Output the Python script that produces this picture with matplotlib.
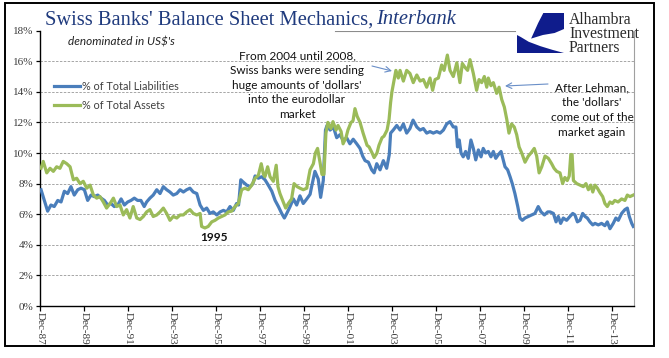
import matplotlib
matplotlib.use('Agg')
import matplotlib.pyplot as plt
from matplotlib.patches import Rectangle, Polygon
from matplotlib.lines import Line2D

# data, x as decimal years
liab_x = [1987.95, 1988.10, 1988.25, 1988.40, 1988.55, 1988.71, 1988.86, 1989.01, 1989.16, 1989.31,
          1989.46, 1989.62, 1989.77, 1989.92, 1990.07, 1990.22, 1990.37, 1990.53, 1990.68, 1990.83,
          1990.98, 1991.13, 1991.28, 1991.44, 1991.59, 1991.74, 1991.89, 1992.04, 1992.19, 1992.34,
          1992.49, 1992.64, 1992.75, 1992.90, 1993.05, 1993.21, 1993.36, 1993.51, 1993.66, 1993.81,
          1993.96, 1994.12, 1994.27, 1994.42, 1994.57, 1994.72, 1994.87, 1995.03, 1995.18, 1995.33,
          1995.48, 1995.63, 1995.78, 1995.94, 1996.09, 1996.24, 1996.39, 1996.54, 1996.69, 1996.84,
          1996.93, 1997.03, 1997.14, 1997.30, 1997.45, 1997.58, 1997.68, 1997.83, 1997.98, 1998.13,
          1998.28, 1998.44, 1998.59, 1998.74, 1998.89, 1999.01, 1999.12, 1999.27, 1999.42, 1999.57,
          1999.72, 1999.87, 2000.03, 2000.18, 2000.25, 2000.40, 2000.55, 2000.66, 2000.78, 2000.88,
          2000.95, 2001.09, 2001.24, 2001.39, 2001.54, 2001.69, 2001.84, 2001.99, 2002.14, 2002.30,
          2002.45, 2002.57, 2002.68, 2002.83, 2002.98, 2003.09, 2003.21, 2003.36, 2003.51, 2003.66,
          2003.78, 2003.84, 2003.96, 2004.12, 2004.27, 2004.42, 2004.57, 2004.72, 2004.86, 2005.03,
          2005.18, 2005.33, 2005.48, 2005.63, 2005.78, 2005.94, 2006.09, 2006.24, 2006.39, 2006.54,
          2006.69, 2006.81, 2006.88, 2006.96, 2007.04, 2007.14, 2007.25, 2007.37, 2007.49, 2007.60,
          2007.71, 2007.83, 2007.95, 2008.05, 2008.16, 2008.28, 2008.40, 2008.51, 2008.62, 2008.74,
          2008.86, 2008.96, 2009.04, 2009.16, 2009.27, 2009.37, 2009.49, 2009.62, 2009.72, 2009.83,
          2009.95, 2010.10, 2010.25, 2010.40, 2010.55, 2010.68, 2010.83, 2010.98, 2011.09, 2011.24,
          2011.36, 2011.46, 2011.57, 2011.69, 2011.84, 2011.99, 2012.12, 2012.22, 2012.33, 2012.45,
          2012.57, 2012.68, 2012.78, 2012.90, 2013.03, 2013.13, 2013.28, 2013.43, 2013.58, 2013.69,
          2013.81, 2013.96, 2014.08, 2014.19, 2014.34, 2014.49, 2014.60, 2014.69, 2014.80, 2014.87]
liab_y = [7.6, 6.9, 6.2, 6.6, 6.5, 6.9, 6.8, 7.5, 7.35, 7.8,
          7.25, 7.6, 7.7, 7.6, 6.9, 7.25, 7.15, 7.25, 7.05, 6.9,
          6.6, 6.7, 6.5, 6.6, 7.0, 6.6, 6.8, 6.9, 7.05, 6.9,
          6.9, 6.5, 6.8, 7.05, 7.25, 7.6, 7.35, 7.8, 7.6, 7.45,
          7.25, 7.35, 7.6, 7.45, 7.6, 7.7, 7.45, 7.35, 6.6, 6.25,
          6.4, 6.05, 6.15, 5.95, 6.15, 6.25, 6.15, 6.5, 6.25, 6.7,
          6.6, 8.25, 8.1, 7.9, 7.8, 8.0, 8.5, 8.35, 8.45, 8.25,
          7.9, 7.5, 6.9, 6.5, 6.05, 5.75, 6.05, 6.5, 7.0, 6.6,
          7.2, 6.7, 7.0, 7.3, 7.8, 8.8, 8.3, 7.1, 8.2, 11.5,
          11.8, 11.5, 11.7, 11.0, 11.2, 10.8, 11.0, 10.6, 10.9, 10.6,
          10.3, 9.8, 9.5, 9.4, 8.9, 8.7, 9.3, 8.9, 9.5, 9.0,
          9.9, 11.3, 11.5, 11.8, 11.5, 11.9, 11.3, 11.6, 12.15, 11.7,
          11.5, 11.6, 11.3, 11.4, 11.3, 11.4, 11.3, 11.5, 11.9, 12.05,
          11.7, 11.7, 10.4, 10.85, 10.0, 9.75, 10.1, 9.65, 10.85, 10.3,
          9.55, 10.2, 9.75, 10.3, 10.0, 10.1, 9.75, 10.1, 9.65, 9.9,
          10.1, 9.55, 9.1, 8.9, 8.45, 8.0, 7.35, 6.5, 5.75, 5.6,
          5.75, 5.85, 5.95, 6.05, 6.5, 6.15, 5.95, 6.15, 6.15, 6.05,
          5.5, 5.85, 5.4, 5.75, 5.6, 5.85, 6.05, 5.95, 5.5, 5.6,
          6.05, 5.85, 5.75, 5.5, 5.3, 5.4, 5.3, 5.4, 5.25, 5.5,
          5.05, 5.4, 5.75, 5.6, 6.05, 6.3, 6.4, 5.85, 5.4, 5.2]

asset_x = [1987.95, 1988.05, 1988.21, 1988.36, 1988.51, 1988.66, 1988.81, 1988.96, 1989.12, 1989.27,
           1989.42, 1989.57, 1989.72, 1989.87, 1990.03, 1990.18, 1990.33, 1990.48, 1990.63, 1990.78,
           1990.93, 1991.09, 1991.24, 1991.39, 1991.54, 1991.69, 1991.84, 1991.99, 1992.14, 1992.30,
           1992.45, 1992.60, 1992.75, 1992.90, 1993.05, 1993.21, 1993.36, 1993.51, 1993.66, 1993.81,
           1993.96, 1994.12, 1994.27, 1994.42, 1994.57, 1994.72, 1994.87, 1995.03, 1995.18, 1995.25,
           1995.40, 1995.55, 1995.71, 1995.86, 1996.01, 1996.16, 1996.31, 1996.46, 1996.62, 1996.77,
           1996.92, 1997.07, 1997.22, 1997.37, 1997.53, 1997.68, 1997.83, 1997.96, 1998.06, 1998.13,
           1998.25, 1998.36, 1998.51, 1998.64, 1998.72, 1998.81, 1998.96, 1999.07, 1999.19, 1999.34,
           1999.45, 1999.59, 1999.72, 1999.87, 2000.03, 2000.10, 2000.18, 2000.33, 2000.42, 2000.52,
           2000.63, 2000.72, 2000.81, 2000.90, 2000.99, 2001.13, 2001.22, 2001.36, 2001.45, 2001.59,
           2001.68, 2001.81, 2001.90, 2002.04, 2002.13, 2002.22, 2002.32, 2002.45, 2002.59, 2002.68,
           2002.77, 2002.86, 2003.00, 2003.09, 2003.22, 2003.31, 2003.45, 2003.54, 2003.68, 2003.77,
           2003.84, 2003.90, 2004.00, 2004.08, 2004.19, 2004.27, 2004.42, 2004.57, 2004.72, 2004.87,
           2005.03, 2005.18, 2005.33, 2005.48, 2005.63, 2005.75, 2005.86, 2006.01, 2006.16, 2006.27,
           2006.42, 2006.54, 2006.69, 2006.85, 2006.99, 2007.10, 2007.22, 2007.34, 2007.45, 2007.60,
           2007.75, 2007.86, 2007.98, 2008.10, 2008.21, 2008.28, 2008.40, 2008.51, 2008.66, 2008.77,
           2008.89, 2009.01, 2009.12, 2009.22, 2009.34, 2009.46, 2009.57, 2009.68, 2009.80, 2009.95,
           2010.10, 2010.22, 2010.37, 2010.48, 2010.59, 2010.71, 2010.86, 2011.01, 2011.16, 2011.27,
           2011.39, 2011.54, 2011.66, 2011.76, 2011.87, 2011.96, 2012.03, 2012.09, 2012.15, 2012.30,
           2012.45, 2012.60, 2012.72, 2012.83, 2012.94, 2013.03, 2013.13, 2013.24, 2013.36, 2013.48,
           2013.58, 2013.69, 2013.81, 2013.92, 2014.03, 2014.18, 2014.34, 2014.49, 2014.60, 2014.72,
           2014.87]
asset_y = [9.0, 9.45, 8.7, 9.0, 8.8, 9.1, 9.0, 9.45, 9.3, 9.1,
           8.25, 8.35, 8.0, 8.15, 7.7, 7.9, 7.25, 7.05, 7.15, 6.8,
           6.4, 6.7, 7.05, 6.5, 6.6, 5.95, 6.3, 5.75, 6.5, 5.75,
           5.65, 5.85, 6.15, 6.3, 5.85, 5.95, 6.15, 6.4, 6.05, 5.6,
           5.85, 5.75, 5.95, 5.95, 6.15, 6.3, 6.05, 5.95, 6.05, 5.2,
           5.1, 5.2, 5.5, 5.6, 5.75, 5.85, 5.95, 6.15, 6.2, 6.5,
           6.7, 7.6, 7.7, 7.6, 7.9, 8.35, 8.55, 9.3, 8.6, 8.45,
           9.1, 8.45, 8.15, 9.2, 7.8, 7.35, 6.8, 6.4, 6.7, 7.0,
           8.0, 7.8, 7.7, 7.6, 7.7, 8.3, 8.9, 9.3, 10.0, 10.3,
           9.4, 8.6, 8.6, 11.3, 12.0, 11.6, 12.05, 11.5, 11.8, 11.4,
           10.6, 11.0, 11.5, 12.0, 12.1, 12.9, 12.4, 12.0, 11.3, 10.9,
           10.5, 10.4, 10.0, 9.7, 10.0, 10.5, 11.0, 11.1, 11.5, 12.2,
           13.3, 14.0, 14.8, 15.4, 14.9, 15.4, 14.7, 15.4, 15.2, 14.6,
           15.1, 14.7, 14.8, 14.3, 14.9, 14.1, 14.8, 14.9, 15.75, 15.4,
           16.4, 15.4, 15.0, 15.9, 14.6, 15.85, 15.6, 15.4, 16.1, 15.2,
           14.1, 14.8, 14.6, 15.0, 14.3, 14.9, 14.4, 14.6, 13.9, 14.3,
           13.5, 13.0, 12.2, 11.3, 11.9, 11.7, 11.2, 10.4, 10.0, 9.4,
           9.8, 10.0, 10.3, 9.8, 8.7, 9.1, 9.8, 9.65, 9.3, 9.0,
           8.8, 8.7, 8.0, 8.4, 8.2, 8.5, 9.9, 9.9, 8.2, 8.0,
           7.9, 7.8, 8.0, 7.6, 7.9, 7.45, 7.9, 7.7, 7.4, 7.15,
           6.7, 6.5, 6.8, 6.7, 6.9, 6.8, 7.0, 6.9, 7.25, 7.15,
           7.25]

tick_years = [1987.917 + 2 * i for i in range(14)]
tick_labels = ['Dec-%02d' % ((87 + 2 * i) % 100) for i in range(14)]
y_ticks = list(range(0, 19, 2))

W, H = 669, 358
L, R, T, B = 40.3, 634.3, 30.6, 306.0

def ax_pos(x, y):
    # pixel position in the picture -> axes fraction
    return ((x - L) / (R - L), (B - y) / (B - T))

fig = plt.figure(figsize=(W / 100, H / 100), dpi=100)
fig.patch.set_facecolor('white')
ax = fig.add_axes([L / W, 1 - B / H, (R - L) / W, (B - T) / H])

blue = '#4A7EBB'
green = '#9BBB59'
ax.plot(liab_x, liab_y, color=blue, lw=2.3, solid_joinstyle='round', zorder=3)
ax.plot(asset_x, asset_y, color=green, lw=2.3, solid_joinstyle='round', zorder=3)

ax.set_xlim(1987.917, 2014.917)
ax.set_ylim(0, 18)
ax.set_xticks(tick_years)
ax.set_xticklabels(tick_labels, rotation=270, fontsize=8, family='Liberation Serif', color='#3A3A3A')
ax.set_yticks(y_ticks)
ax.set_yticklabels(['%d%%' % v for v in y_ticks], fontsize=8, family='Liberation Serif', color='#3A3A3A')
ax.tick_params(axis='x', direction='out', length=3.6, width=0.9, pad=0.5)
ax.tick_params(axis='y', direction='out', length=3, width=0.9, pad=2)

for v in y_ticks[1:-1]:
    ax.axhline(v, color='#A6A6A6', lw=0.7, ls=(0, (2.5, 1.5)), zorder=1)
ax.axhline(18, xmin=ax_pos(335, 0)[0], xmax=ax_pos(515, 0)[0], color='#8C8C8C', lw=0.8, zorder=1)

ax.spines['top'].set_visible(False)
ax.spines['right'].set_color('#A0A0A0')
ax.spines['right'].set_linewidth(0.8)
ax.spines['left'].set_linewidth(1.0)
ax.spines['bottom'].set_linewidth(1.0)

# legend
handles = [Line2D([], [], color=blue, lw=2.3), Line2D([], [], color=green, lw=2.3)]
ax.legend(handles, ['% of Total Liabilities', '% of Total Assets'], loc='upper left',
          bbox_to_anchor=ax_pos(54, 81), frameon=False, borderpad=0, borderaxespad=0,
          handlelength=2.4, handletextpad=0.15, labelspacing=0.75,
          prop={'family': 'Lato', 'size': 7.8}, labelcolor='#404040')

ax.text(*ax_pos(68, 42), "denominated in US$'s", transform=ax.transAxes, ha='left', va='center',
        fontsize=8.5, family='Lato', style='italic', color='#222222')

ax.text(*ax_pos(297, 85), "From 2004 until 2008,\nSwiss banks were sending\nhuge amounts of 'dollars'\ninto the eurodollar\nmarket",
        transform=ax.transAxes, ha='center', va='center', multialignment='center',
        fontsize=8.5, family='Lato', color='#111111', linespacing=1.42)
ax.text(*ax_pos(592, 110), "After Lehman,\nthe 'dollars'\ncome out of the\nmarket again",
        transform=ax.transAxes, ha='center', va='center', multialignment='center',
        fontsize=8.5, family='Lato', color='#111111', linespacing=1.42)
ax.text(*ax_pos(214, 237), '1995', transform=ax.transAxes, ha='center', va='center',
        fontsize=8.5, family='Lato', fontweight='bold', color='#111111')

arrow = dict(arrowstyle='->', color='#6A8FC8', lw=0.8, shrinkA=0, shrinkB=0)
ax.annotate('', xy=ax_pos(392, 71), xytext=ax_pos(372, 66), xycoords='axes fraction',
            textcoords='axes fraction', arrowprops=arrow)
ax.annotate('', xy=ax_pos(505, 86), xytext=ax_pos(548, 84), xycoords='axes fraction',
            textcoords='axes fraction', arrowprops=arrow)

# title
fig.text(45 / W, 1 - 20 / H, "Swiss Banks' Balance Sheet Mechanics,", ha='left', va='center',
         fontsize=14.8, family='Liberation Serif', color='#1F3A7D')
fig.text(376 / W, 1 - 20 / H, 'Interbank', ha='left', va='center',
         fontsize=14.8, family='Liberation Serif', style='italic', color='#1F3A7D')

# logo
lax = fig.add_axes([517 / W, 1 - 53 / H, 47 / W, 40 / H])
lax.set_xlim(0, 1)
lax.set_ylim(0, 1)
lax.axis('off')
navy = '#0F1C8C'
lax.add_patch(Polygon([(0.56, 1), (1, 1), (1, 0.6), (0.8, 0.5), (0.55, 0.45), (0.3, 0.36), (0.45, 0.75)],
                      closed=True, color=navy, lw=0))
lax.add_patch(Polygon([(0, 0), (1, 0), (0.75, 0.08), (0.5, 0.17), (0.25, 0.28), (0.08, 0.4), (0, 0.45)],
                      closed=True, color=navy, lw=0))
fig.text(569 / W, 1 - 34 / H, 'Alhambra\nInvestment\nPartners', ha='left', va='center',
         fontsize=11.3, family='Liberation Serif', color='#2B2B2B', linespacing=0.86)

# outer frame
fig.patches.append(Rectangle((5 / W, 1 - 346 / H), 649 / W, 343 / H, transform=fig.transFigure,
                             fill=False, edgecolor='black', lw=1.4))

fig.savefig('out.png', dpi=100)
